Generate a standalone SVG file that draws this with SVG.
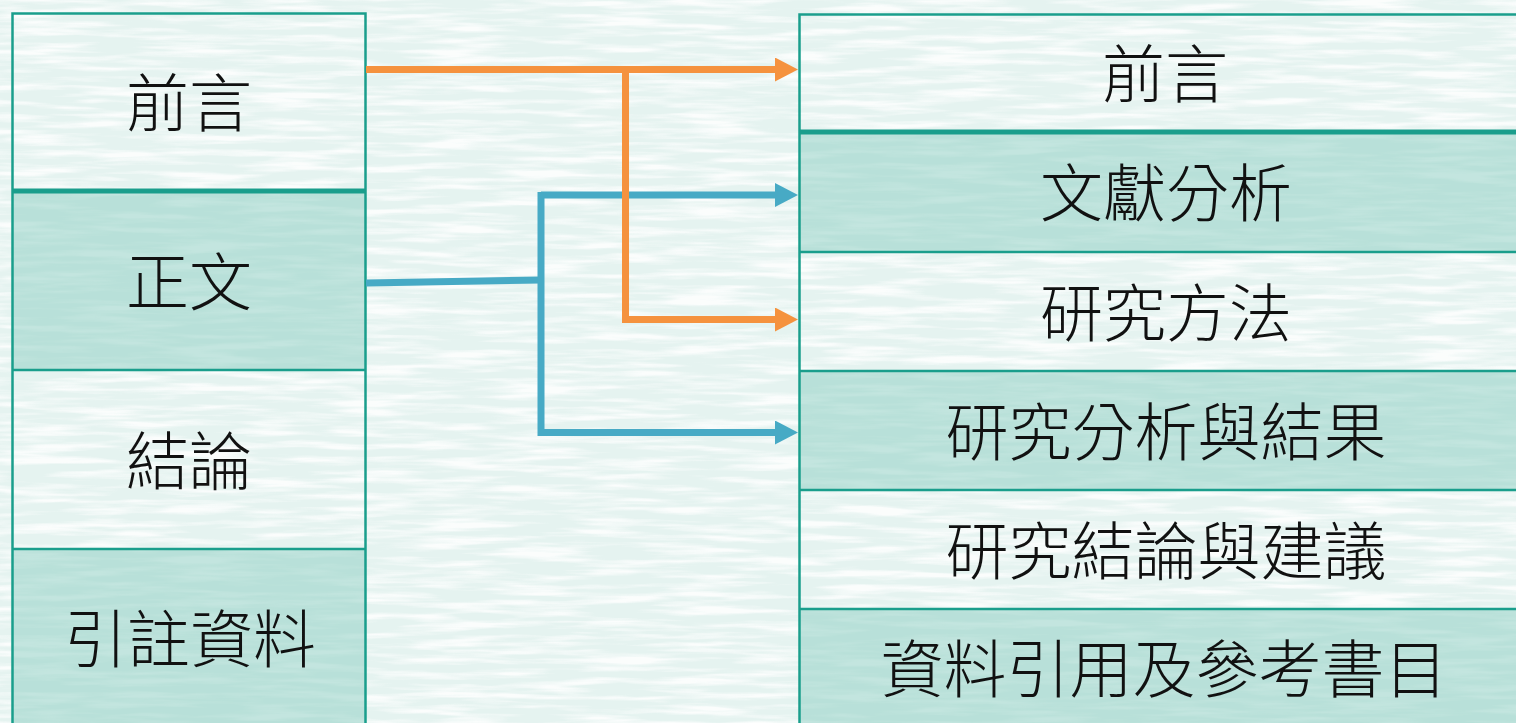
<svg xmlns="http://www.w3.org/2000/svg" width="1516" height="723" viewBox="0 0 1516 723">
<style>
.lbl{font-family:"Noto Sans CJK TC","Noto Sans CJK SC",sans-serif;font-size:63px;fill:#111;text-anchor:middle;font-weight:300}
.cellW{fill:none}
.cellT{fill:#8ccdc2;fill-opacity:0.5}
.bd{fill:none;stroke:#1a9e8c;stroke-width:2.5}
.bdThick{stroke:#1a9e8c;stroke-width:5}
.bdThin{stroke:#1a9e8c;stroke-width:2.5}
.orange{fill:none;stroke:#f5923e;stroke-width:7}
.blue{fill:none;stroke:#47aac5;stroke-width:7}
</style>
<defs>
<filter id="water" x="0" y="0" width="100%" height="100%" filterUnits="userSpaceOnUse">
<feTurbulence type="fractalNoise" baseFrequency="0.012 0.14" numOctaves="3" seed="7" result="n"/>
<feColorMatrix in="n" type="matrix" values="0 0 0 0 1  0 0 0 0 1  0 0 0 0 1  3.2 0 0 0 -1.35"/>
</filter>
<marker id="arrO" viewBox="0 0 23 24" markerWidth="23" markerHeight="24" refX="1" refY="12" markerUnits="userSpaceOnUse" orient="auto"><path d="M0,0 L23,12 L0,24 z" fill="#f5923e"/></marker>
<marker id="arrB" viewBox="0 0 23 24" markerWidth="23" markerHeight="24" refX="1" refY="12" markerUnits="userSpaceOnUse" orient="auto"><path d="M0,0 L23,12 L0,24 z" fill="#47aac5"/></marker>
</defs>
<rect x="0" y="0" width="1516" height="723" fill="#e5f3f0"/>
<rect x="0" y="0" width="1516" height="723" fill="#fff" filter="url(#water)" opacity="0.85"/>

<g id="left-table">
<g id="L-preface"><rect x="12" y="13" width="354" height="178" class="cellW"/><text class="lbl" x="189" y="126">前言</text></g>
<g id="L-body"><rect x="12" y="191" width="354" height="179" class="cellT"/><text class="lbl" x="189" y="305">正文</text></g>
<g id="L-conclusion"><rect x="12" y="370" width="354" height="179" class="cellW"/><text class="lbl" x="189" y="484">結論</text></g>
<g id="L-refs"><rect x="12" y="549" width="354" height="190" class="cellT"/><text class="lbl" x="190" y="662">引註資料</text></g>
<rect x="12.5" y="13.5" width="353" height="740" class="bd"/>
<line x1="12" y1="191" x2="366" y2="191" class="bdThick"/>
<line x1="12" y1="370" x2="366" y2="370" class="bdThin"/>
<line x1="12" y1="549" x2="366" y2="549" class="bdThin"/>
</g>

<g id="right-table">
<g id="R-preface"><rect x="799" y="14" width="740" height="118" class="cellW"/><text class="lbl" x="1165" y="97">前言</text></g>
<g id="R-literature"><rect x="799" y="132" width="740" height="120" class="cellT"/><text class="lbl" x="1166" y="216">文獻分析</text></g>
<g id="R-method"><rect x="799" y="252" width="740" height="119" class="cellW"/><text class="lbl" x="1166" y="336">研究方法</text></g>
<g id="R-analysis"><rect x="799" y="371" width="740" height="119" class="cellT"/><text class="lbl" x="1166" y="455">研究分析與結果</text></g>
<g id="R-conclusion"><rect x="799" y="490" width="740" height="119" class="cellW"/><text class="lbl" x="1166" y="574">研究結論與建議</text></g>
<g id="R-refs"><rect x="799" y="609" width="740" height="130" class="cellT"/><text class="lbl" x="1164" y="692">資料引用及參考書目</text></g>
<rect x="799.5" y="14.5" width="740" height="740" class="bd"/>
<line x1="799" y1="132" x2="1540" y2="132" class="bdThick"/>
<line x1="799" y1="252" x2="1540" y2="252" class="bdThin"/>
<line x1="799" y1="371" x2="1540" y2="371" class="bdThin"/>
<line x1="799" y1="490" x2="1540" y2="490" class="bdThin"/>
<line x1="799" y1="609" x2="1540" y2="609" class="bdThin"/>
</g>

<g id="connectors">
<path class="blue" d="M366,283 L541,280"/>
<path class="blue" d="M541,192 L541,436"/>
<path class="blue" d="M541,195 L776,195" marker-end="url(#arrB)"/>
<path class="blue" d="M541,432.5 L776,432.5" marker-end="url(#arrB)"/>
<path class="orange" d="M366,69.5 L776,69.5" marker-end="url(#arrO)"/>
<path class="orange" d="M625.5,69.5 L625.5,323"/>
<path class="orange" d="M622,319.5 L776,319.5" marker-end="url(#arrO)"/>
</g>
</svg>
